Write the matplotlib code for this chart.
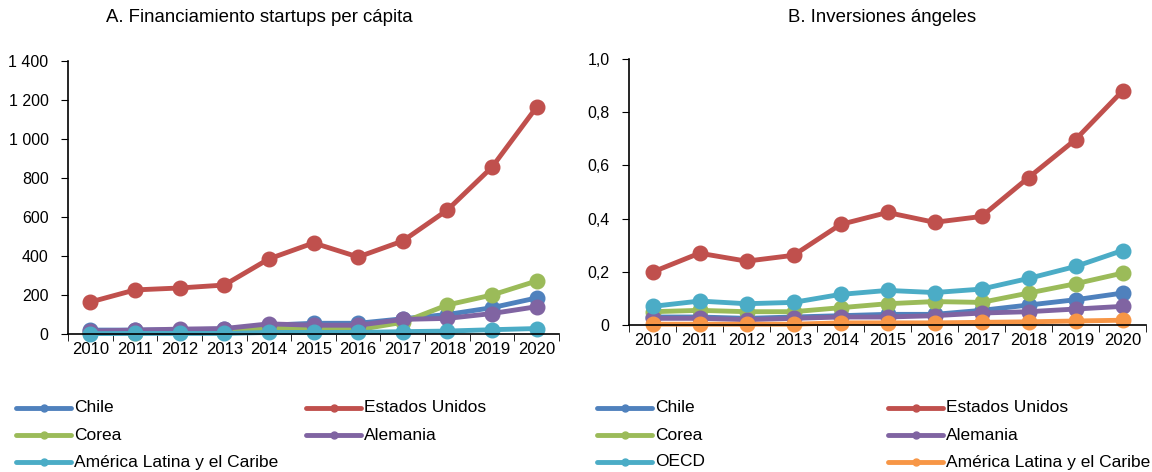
import matplotlib.pyplot as plt
from matplotlib.ticker import FuncFormatter, MultipleLocator
from matplotlib.lines import Line2D

plt.rcParams['font.family'] = ['Liberation Sans', 'DejaVu Sans']

years = [2010, 2011, 2012, 2013, 2014, 2015, 2016, 2017, 2018, 2019, 2020]

# A. startup funding per capita
a_chile = [20, 20, 22, 25, 45, 55, 55, 78, 100, 135, 185]
a_usa = [164, 226, 236, 251, 385, 467, 395, 477, 636, 856, 1164]
a_korea = [5, 6, 8, 10, 30, 30, 22, 60, 149, 200, 272]
a_germany = [15, 20, 25, 28, 52, 45, 45, 75, 80, 105, 140]
a_lac = [2, 3, 3, 3, 8, 8, 8, 12, 15, 22, 28]

# B. angel investments
b_chile = [0.03, 0.03, 0.025, 0.03, 0.035, 0.04, 0.04, 0.055, 0.075, 0.095, 0.12]
b_usa = [0.199, 0.27, 0.24, 0.262, 0.378, 0.423, 0.386, 0.408, 0.554, 0.697, 0.88]
b_korea = [0.05, 0.055, 0.05, 0.05, 0.065, 0.08, 0.088, 0.085, 0.12, 0.155, 0.195]
b_germany = [0.025, 0.025, 0.02, 0.025, 0.03, 0.03, 0.035, 0.045, 0.05, 0.06, 0.07]
b_oecd = [0.07, 0.09, 0.08, 0.085, 0.115, 0.13, 0.122, 0.135, 0.175, 0.22, 0.28]
b_lac = [0.003, 0.003, 0.003, 0.003, 0.008, 0.008, 0.008, 0.01, 0.012, 0.015, 0.018]

BLUE = '#4F81BD'
RED = '#C0504D'
GREEN = '#9BBB59'
PURPLE = '#8064A2'
CYAN = '#4BACC6'
ORANGE = '#F79646'

W, H = 1152, 472
fig = plt.figure(figsize=(W / 100, H / 100), dpi=100)
axA = fig.add_axes([68 / W, 1 - 334 / H, (559 - 68) / W, (334 - 61) / H])
axB = fig.add_axes([629 / W, 1 - 325 / H, (1146 - 629) / W, (325 - 59) / H])

x = list(range(len(years)))
LW = 3.5
MS = 10.5


def draw(ax, series):
    for vals, col, lab in series:
        ax.plot(x, vals, color=col, lw=LW, marker='o', ms=MS, label=lab,
                solid_capstyle='round', clip_on=False)
    ax.set_xlim(-0.5, len(years) - 0.5)
    ax.set_xticks(x)
    ax.set_xticklabels([str(y) for y in years])
    ax.set_xticks([i - 0.5 for i in range(len(years) + 1)], minor=True)
    ax.tick_params(axis='x', which='major', length=0, labelsize=12, pad=6)
    ax.tick_params(axis='x', which='minor', length=5, direction='out', color='black')
    ax.tick_params(axis='y', length=5, direction='out', labelsize=11.5, pad=9)
    for s in ['top', 'right']:
        ax.spines[s].set_visible(False)
    for s in ['left', 'bottom']:
        ax.spines[s].set_color('black')
        ax.spines[s].set_linewidth(1.2)


seriesA = [(a_chile, BLUE, 'Chile'), (a_usa, RED, 'Estados Unidos'),
           (a_korea, GREEN, 'Corea'), (a_germany, PURPLE, 'Alemania'),
           (a_lac, CYAN, 'América Latina y el Caribe')]
draw(axA, seriesA)
axA.set_ylim(0, 1400)
axA.yaxis.set_major_locator(MultipleLocator(200))
axA.yaxis.set_major_formatter(FuncFormatter(lambda v, p: '{:,.0f}'.format(v).replace(',', ' ')))

seriesB = [(b_chile, BLUE, 'Chile'), (b_usa, RED, 'Estados Unidos'),
           (b_korea, GREEN, 'Corea'), (b_germany, PURPLE, 'Alemania'),
           (b_oecd, CYAN, 'OECD'), (b_lac, ORANGE, 'América Latina y el Caribe')]
draw(axB, seriesB)
axB.set_ylim(0, 1.0)
axB.yaxis.set_major_locator(MultipleLocator(0.2))
axB.yaxis.set_major_formatter(FuncFormatter(lambda v, p: '0' if v == 0 else '{:.1f}'.format(v).replace('.', ',')))

fig.text(259 / W, 1 - 18 / H, 'A. Financiamiento startups per cápita',
         ha='center', va='center', fontsize=13.4)
fig.text(882 / W, 1 - 18 / H, 'B. Inversiones ángeles',
         ha='center', va='center', fontsize=13.4)

# legends: entries laid out in a 2-column grid under each panel
rows_y = [408, 435, 462]
legA = [(BLUE, 'Chile'), (RED, 'Estados Unidos'), (GREEN, 'Corea'),
        (PURPLE, 'Alemania'), (CYAN, 'América Latina y el Caribe')]
legB = [(BLUE, 'Chile'), (RED, 'Estados Unidos'), (GREEN, 'Corea'),
        (PURPLE, 'Alemania'), (CYAN, 'OECD'), (ORANGE, 'América Latina y el Caribe')]

for items, cols in [(legA, [16, 306]), (legB, [597, 888])]:
    for i, (col, lab) in enumerate(items):
        x0 = cols[i % 2]
        yy = 1 - rows_y[i // 2] / H
        fig.add_artist(Line2D([x0 / W, (x0 + 55) / W], [yy, yy], color=col,
                              lw=LW, solid_capstyle='round', transform=fig.transFigure))
        fig.add_artist(Line2D([(x0 + 27.5) / W], [yy], color=col, marker='o', ms=5,
                              transform=fig.transFigure))
        fig.text((x0 + 58) / W, yy, lab, ha='left', va='center', fontsize=12.5)

fig.savefig('out.png', dpi=100)
